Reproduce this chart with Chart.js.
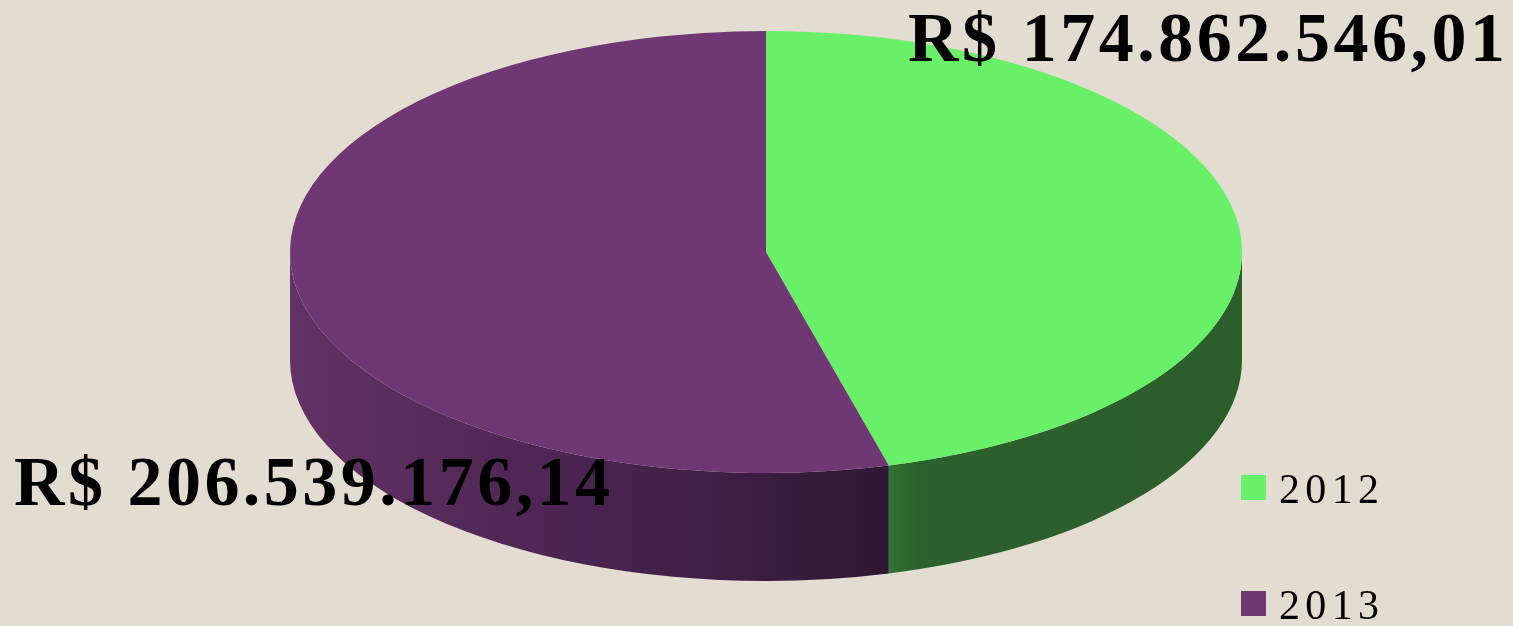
<!DOCTYPE html>
<html>
<head>
<meta charset="utf-8">
<script src="https://cdn.jsdelivr.net/npm/chart.js@4.4.0/dist/chart.umd.min.js"></script>
<style>
  html, body { margin: 0; padding: 0; background: #E3DDD1; }
  #wrap { width: 1513px; height: 626px; position: relative; }
</style>
</head>
<body>
<div id="wrap"><canvas id="pie"></canvas></div>
<script>
const years = ['2012', '2013'];
const totals = [174862546.01, 206539176.14];
const valueLabels = ['R$ 174.862.546,01', 'R$ 206.539.176,14'];

const topColors = ['#69F069', '#6F3773'];

// ellipse look: horizontal radius and depth of the side wall
const RX = 476;
const DEPTH = 108;

function sideFill(ctx, i, x0, x1) {
  const g = ctx.createLinearGradient(x0, 0, x1, 0);
  if (i === 0) {
    g.addColorStop(0, '#327332');
    g.addColorStop(0.08, '#2C602C');
    g.addColorStop(1, '#2B5E2B');
  } else {
    g.addColorStop(0, '#613264');
    g.addColorStop(0.5, '#4A2450');
    g.addColorStop(1, '#2F1834');
  }
  return g;
}

// draw text stretched to a given width using letter spacing
function spacedText(ctx, txt, x, y, width) {
  ctx.letterSpacing = '0px';
  const w = ctx.measureText(txt).width;
  const gap = (width - w) / (txt.length - 1);
  ctx.letterSpacing = gap.toFixed(2) + 'px';
  ctx.fillText(txt, x, y);
  ctx.letterSpacing = '0px';
}

const pie3d = {
  id: 'pie3d',
  beforeDatasetsDraw(chart) {
    const ctx = chart.ctx;
    const arcs = chart.getDatasetMeta(0).data;
    const cx = arcs[0].x, cy = arcs[0].y, r = arcs[0].outerRadius;
    const rx = RX;
    arcs.forEach((arc, i) => {
      const s = Math.max(arc.startAngle, 0);
      const e = Math.min(arc.endAngle, Math.PI);
      if (e <= s) return;
      const xa = cx + rx * Math.cos(s), xb = cx + rx * Math.cos(e);
      ctx.save();
      ctx.beginPath();
      ctx.ellipse(cx, cy, rx, r, 0, s, e);
      ctx.ellipse(cx, cy + DEPTH, rx, r, 0, e, s, true);
      ctx.closePath();
      ctx.fillStyle = sideFill(ctx, i, Math.min(xa, xb), Math.max(xa, xb));
      ctx.fill();
      ctx.restore();
    });
    ctx.save();
    ctx.translate(cx, cy);
    ctx.scale(rx / r, 1);
    ctx.translate(-cx, -cy);
  },
  afterDatasetsDraw(chart) {
    chart.ctx.restore();
  },
  afterDraw(chart) {
    const ctx = chart.ctx;
    ctx.save();
    ctx.fillStyle = '#000';
    ctx.textBaseline = 'alphabetic';
    ctx.textAlign = 'left';
    ctx.font = 'bold 70px "Liberation Serif"';
    spacedText(ctx, valueLabels[0], 908, 61, 597);
    spacedText(ctx, valueLabels[1], 14, 505, 596);

    // legend
    const legendY = [475, 591];
    ctx.font = '42px "Liberation Serif"';
    years.forEach((y, i) => {
      ctx.fillStyle = topColors[i];
      ctx.fillRect(1241, legendY[i], 25, 25);
      ctx.fillStyle = '#000';
      spacedText(ctx, y, 1279, legendY[i] + 28, 100);
    });
    ctx.restore();
  }
};

new Chart(document.getElementById('pie'), {
  type: 'pie',
  data: {
    labels: years,
    datasets: [{
      data: totals,
      backgroundColor: topColors,
      borderWidth: 0
    }]
  },
  options: {
    responsive: true,
    maintainAspectRatio: false,
    animation: false,
    layout: { padding: { top: 31, bottom: 153, left: 545, right: 526 } },
    plugins: {
      legend: { display: false },
      tooltip: { enabled: false }
    }
  },
  plugins: [pie3d]
});
</script>
</body>
</html>
